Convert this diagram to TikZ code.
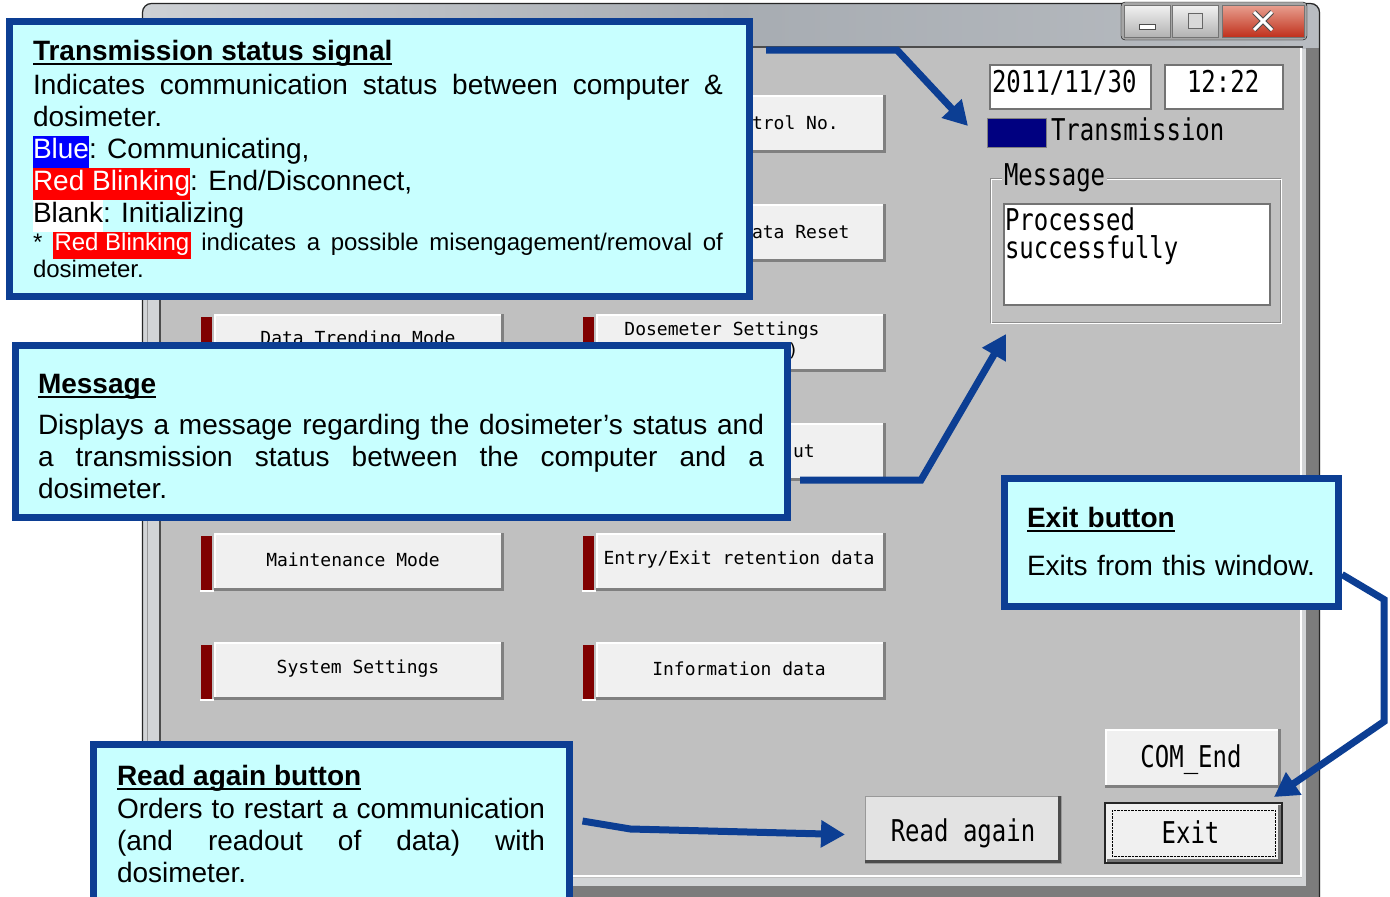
\documentclass[tikz,border=0pt]{standalone}
\usepackage{fontspec}
\setmainfont{Liberation Sans}
\newfontfamily\guifont[FakeStretch=0.8]{DejaVu Sans Mono}
\newfontfamily\btnfont{DejaVu Sans Mono}
\usetikzlibrary{arrows.meta,positioning}

\definecolor{callfill}{HTML}{C8FFFF}
\definecolor{callblue}{HTML}{0C3E93}
\definecolor{wingray}{HTML}{C0C0C0}
\definecolor{btnface}{HTML}{F0F0F0}
\definecolor{readface}{HTML}{E3E3E3}
\definecolor{ledred}{HTML}{800000}
\definecolor{lednavy}{HTML}{000080}
\definecolor{hlblue}{HTML}{0000FF}
\definecolor{hlred}{HTML}{FF0000}
\definecolor{titletop}{HTML}{CDD0D4}
\definecolor{titlebot}{HTML}{A7ACB2}
\definecolor{framegray}{HTML}{D2D4D6}
\definecolor{framedark}{HTML}{7C7C7C}
\definecolor{closetop}{HTML}{E8A090}
\definecolor{closebot}{HTML}{C0301C}

% coloured marker behind a word, as tall as the line
\newcommand{\hilite}[3]{{\setlength{\fboxsep}{0pt}\colorbox{#1}{\strut\textcolor{#2}{#3}}}}
% bold heading with a heavy rule under it
\newcommand{\calltitle}[1]{{\setbox0\hbox{\textbf{#1}}\rlap{\rule[-4.5pt]{\wd0}{2pt}}\box0}}
\newcommand{\callfont}{\fontsize{28}{32}\selectfont\hyphenpenalty=10000\relax}

\tikzset{
  callout/.style={draw=callblue, line width=7pt, fill=callfill, inner sep=0pt, outer sep=0pt, anchor=north west},
  calltext/.style={anchor=north west, inner sep=0pt, outer sep=0pt, align=justify, font=\callfont},
  callarrow/.style={draw=callblue, line width=7pt, -{Triangle[length=24pt,width=26pt]}},
  guibtn/.style={fill=btnface, inner sep=0pt, outer sep=0pt, anchor=north west},
  sunkenbox/.style={fill=white, draw=black!55, line width=1.5pt, inner sep=0pt, outer sep=0pt, anchor=north west},
  guitext/.style={font=\guifont\fontsize{30}{28}\selectfont, inner sep=0pt, outer sep=0pt},
  btnlabel/.style={font=\btnfont\fontsize{18}{20}\selectfont, inner sep=0pt, outer sep=0pt},
  winctl/.style={minimum height=32pt, inner sep=0pt, outer sep=0pt, draw=black!55,
    top color=white!90!gray, bottom color=black!30}
}

\begin{document}
\begin{tikzpicture}[x=1pt,y=-1pt]
\useasboundingbox (0,0) rectangle (1390,897);
\fill[white] (0,0) rectangle (1390,897);

% window frame and title bar
\fill[framegray, rounded corners=9pt] (142,905) |- (1320,3) -- (1320,905) -- cycle;
\begin{scope}
  \clip[rounded corners=9pt] (142,905) |- (1320,3) -- (1320,905) -- cycle;
  \shade[left color=titletop, right color=titlebot!80!white, middle color=titlebot] (142,3) rectangle (1320,48);
  \fill[framedark] (1306,48) rectangle (1320,897);
  \fill[framedark] (142,886) rectangle (1320,897);
\end{scope}
\draw[black!85, line width=1.2pt, rounded corners=9pt] (142.5,905) |- (1319.5,3.5) -- (1319.5,905);
\draw[black!40] (147,48) -- (147,886);

% client area
\fill[wingray] (161,48) rectangle (1302,878);
\draw[black!70, line width=1.5pt] (160,878) -- (160,47) -- (1303,47);
\draw[white, line width=2pt] (161,876) -- (1301,876) -- (1301,48);

% caption buttons
\draw[fill=black!35, rounded corners=4pt] (1121,2) rectangle (1307,40);
\node[winctl, minimum width=46pt] (ctlmin) at (1147,21) {};
\node[winctl, minimum width=46pt] (ctlmax) at (1195,21) {};
\node[winctl, minimum width=82pt, top color=closetop, bottom color=closebot] (ctlclose) at (1263,21) {};
\draw[fill=white, draw=black!70] ([shift={(-8,3)}]ctlmin.center) rectangle ([shift={(8,8)}]ctlmin.center);
\draw[fill=white!70!gray, draw=black!60] ([shift={(-7,-8)}]ctlmax.center) rectangle ([shift={(7,7)}]ctlmax.center);
\draw[black!70, line width=5pt] ([shift={(-9,-9)}]ctlclose.center) -- ([shift={(9,9)}]ctlclose.center)
  ([shift={(-9,9)}]ctlclose.center) -- ([shift={(9,-9)}]ctlclose.center);
\draw[white, line width=3pt] ([shift={(-9,-9)}]ctlclose.center) -- ([shift={(9,9)}]ctlclose.center)
  ([shift={(-9,9)}]ctlclose.center) -- ([shift={(9,-9)}]ctlclose.center);

% menu buttons, two columns
\foreach \col/\bx in {L/200,R/582}{
  \foreach \row/\by in {1/95,2/204,3/314,4/423,5/533,6/642}{
    \fill[ledred] (\bx+1,\by+3) rectangle (\bx+12,\by+57);
    \draw[white, line width=1.5pt] (\bx,\by+58) -- (\bx+14,\by+58);
    \node[guibtn, minimum width=290pt, minimum height=58pt] (btn\col\row) at (\bx+14,\by) {};
    \draw[white, line width=2pt] ([shift={(1,-1)}]btn\col\row.south west) -- ([shift={(1,1)}]btn\col\row.north west) -- ([shift={(0,1)}]btn\col\row.north east);
    \draw[black!50, line width=3pt] ([shift={(-1.5,0)}]btn\col\row.north east) -- ([shift={(-1.5,-1.5)}]btn\col\row.south east) -- ([shift={(0,-1.5)}]btn\col\row.south west);
  }
}
\node[btnlabel] (lblL3) at ([shift={(-1,-3)}]btnL3.center) {Data Trending Mode};
\node[btnlabel] (lblL5) at ([shift={(-6,-2)}]btnL5.center) {Maintenance Mode};
\node[btnlabel] (lblL6) at ([shift={(-1,-2)}]btnL6.center) {System Settings};
\node[btnlabel, anchor=west] (lblR1) at (752,123) {trol No.};
\node[btnlabel, anchor=west] (lblR2) at (752,232) {ata Reset};
\node[btnlabel] (lblR3) at ([shift={(-19,-12)}]btnR3.center) {Dosemeter Settings};
\node[btnlabel] (lblR3b) at ([shift={(52,8)}]btnR3.center) {)};
\node[btnlabel, anchor=west] (lblR4) at (793,451) {ut};
\node[btnlabel] (lblR5) at ([shift={(-2,-2)}]btnR5.center) {Entry/Exit retention data};
\node[btnlabel] (lblR6) at ([shift={(-2,-2)}]btnR6.center) {Information data};

% date, time, transmission lamp
\node[sunkenbox, minimum width=161pt, minimum height=44pt] (datebox) at (990,65) {};
\node[guitext, anchor=base west] (datetxt) at (992,92) {2011/11/30};
\node[sunkenbox, minimum width=118pt, minimum height=44pt] (timebox) at (1165,65) {};
\node[guitext, anchor=base west] (timetxt) at (1187,92) {12:22};
\node[draw=black!50, fill=lednavy, minimum width=59pt, minimum height=29pt, anchor=north west,
  inner sep=0pt, outer sep=0pt] (transled) at (987,118) {};
\node[guitext, anchor=base west] (transtxt) at (1051,140) {Transmission};

% message group
\node[draw=black!45, minimum width=290pt, minimum height=144pt, anchor=north west,
  inner sep=0pt, outer sep=0pt] (msggrp) at (990,178) {};
\draw[white] ([shift={(1,1)}]msggrp.north west) rectangle ([shift={(1,1)}]msggrp.south east);
\node[guitext, anchor=base west, fill=wingray, inner sep=2pt] (msglbl) at (1002,185) {Message};
\node[sunkenbox, minimum width=266pt, minimum height=101pt] (msgbox) at (1004,204) {};
\node[guitext, anchor=north west, align=left] (msgtxt) at (1005,208) {Processed\\successfully};

% bottom buttons
\node[guibtn, minimum width=176pt, minimum height=59pt] (combtn) at (1105,729) {};
\draw[white, line width=2pt] ([shift={(1,-1)}]combtn.south west) -- ([shift={(1,1)}]combtn.north west) -- ([shift={(0,1)}]combtn.north east);
\draw[black!50, line width=3pt] ([shift={(-1.5,0)}]combtn.north east) -- ([shift={(-1.5,-1.5)}]combtn.south east) -- ([shift={(0,-1.5)}]combtn.south west);
\node[guitext] (comtxt) at ([shift={(-2,1)}]combtn.center) {COM\_End};

\node[guibtn, draw=black!85, line width=1.5pt, minimum width=177pt, minimum height=60pt] (exitbtn) at (1105,803) {};
\draw[black!55, line width=3pt] ([shift={(-3,2)}]exitbtn.north east) -- ([shift={(-3,-3)}]exitbtn.south east) -- ([shift={(2,-3)}]exitbtn.south west);
\draw[black, densely dotted] ([shift={(7,7)}]exitbtn.north west) rectangle ([shift={(-7,-7)}]exitbtn.south east);
\node[guitext] (exittxt) at ([shift={(-3,-1)}]exitbtn.center) {Exit};

\node[guibtn, fill=readface, draw=black!40, line width=1pt, minimum width=196pt, minimum height=67pt] (readbtn) at (865,796) {};
\draw[black!70, line width=3pt] ([shift={(-1.5,0)}]readbtn.north east) -- ([shift={(-1.5,-1.5)}]readbtn.south east) -- ([shift={(0,-1.5)}]readbtn.south west);
\node[guitext] (readtxt) at ([shift={(0,4)}]readbtn.center) {Read again};

% callouts
\node[callout, minimum width=740pt, minimum height=275pt] (tsscall) at (9,21) {};
\node[calltext, text width=690pt] (tsstext) at (33,40) {%
  \calltitle{Transmission status signal}\par\vspace*{2pt}
  Indicates communication status between computer \&\linebreak dosimeter.\par
  \hilite{hlblue}{white}{Blue}: Communicating,\par
  \hilite{hlred}{white}{Red Blinking}: End/Disconnect,\par
  \hilite{white}{black}{Blank}: Initializing\par
  {\fontsize{24}{27}\selectfont\vspace*{-1pt}%
  * \hilite{hlred}{white}{\kern1.5pt Red Blinking\kern1.5pt} indicates a possible misengagement/removal of\linebreak dosimeter.\par}};

\node[callout, minimum width=772pt, minimum height=172pt] (msgcall) at (15,345) {};
\node[calltext, text width=726pt] (msgtext) at (38,374) {%
  \calltitle{Message}\par\vspace*{9.5pt}
  Displays a message regarding the dosimeter’s status and\linebreak a transmission status between the computer and a\linebreak dosimeter.\par};

\node[callout, minimum width=334pt, minimum height=128pt] (exitcall) at (1004,478.5) {};
\node[calltext, text width=300pt, align=left] (exittext) at (1027,507) {%
  \calltitle{Exit button}\par\vspace*{16pt}
  Exits from this window.\par};

\node[callout, minimum width=476pt, minimum height=165pt] (readcall) at (93.5,744) {};
\node[calltext, text width=428pt] (readtext) at (117,765) {%
  \calltitle{Read again button}\par\vspace*{1pt}
  Orders to restart a communication\linebreak (and readout of data) with\linebreak dosimeter.\par};

% pointers
\draw[callarrow] ([shift={(17,29)}]tsscall.north east) -- ++(131,0) -- ([shift={(-19,8)}]transled.north west);
\draw[callarrow] ([shift={(13,-37)}]msgcall.south east) -- ++(121,0) -- ([shift={(16,12)}]msggrp.south west);
\draw[callarrow] ([shift={(4,96)}]exitcall.north east) -- ++(42,25) -- ++(0,122) -- ([shift={(-8,-6)}]exitbtn.north east);
\draw[callarrow] ([shift={(13,77)}]readcall.north east) -- ++(48,8) -- ([shift={(-20,5)}]readbtn.west);
\end{tikzpicture}
\end{document}
